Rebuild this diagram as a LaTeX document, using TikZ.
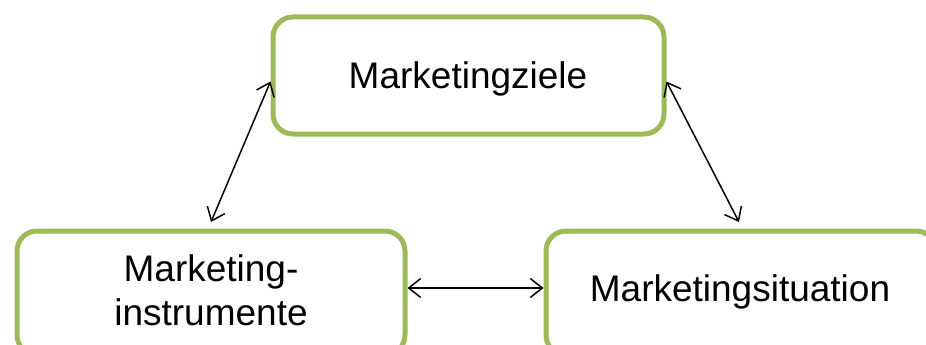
\documentclass[tikz,border=0pt]{standalone}
\usepackage{fontspec}
\setmainfont{Liberation Sans}
\usetikzlibrary{arrows.meta}
\definecolor{boxgreen}{HTML}{9BBB59}
\tikzset{
  zbox/.style={draw=boxgreen, line width=5pt, rounded corners=20pt, fill=white,
    rectangle, minimum width=#1, align=center,
    font=\fontsize{37}{44}\selectfont, inner sep=0pt},
  link/.style={line width=1.5pt, {Straight Barb[length=12pt,width=19pt]}-{Straight Barb[length=12pt,width=19pt]}}
}
\begin{document}
\begin{tikzpicture}[x=1pt,y=-1pt]
\useasboundingbox (0,0) rectangle (926,345);
\clip (0,0) rectangle (926,345);
\node[zbox=391pt, minimum height=117pt] (ziele) at (468.5,75.5) {};
\node[font=\fontsize{37}{44}\selectfont, inner sep=0pt] (zieletext) at (468,79) {Marketingziele};
\node[zbox=388pt, minimum height=124pt] (instr) at (211,293) {};
\node[align=center, font=\fontsize{37}{44}\selectfont, inner sep=0pt] (instrtext) at (211,290) {Marketing-\\instrumente};
\node[zbox=390pt, minimum height=124pt] (sit) at (741,293) {};
\node[font=\fontsize{37}{44}\selectfont, inner sep=0pt] (sittext) at (740,292) {Marketingsituation};
\draw[link] ([yshift=-6pt]ziele.west) -- ([yshift=6.5pt]instr.north);
\draw[link] ([yshift=-6pt]ziele.east) -- ([yshift=6.5pt,xshift=-2pt]sit.north);
\draw[link] ([yshift=5pt]instr.east) -- ([yshift=5pt]sit.west);
\end{tikzpicture}
\end{document}
